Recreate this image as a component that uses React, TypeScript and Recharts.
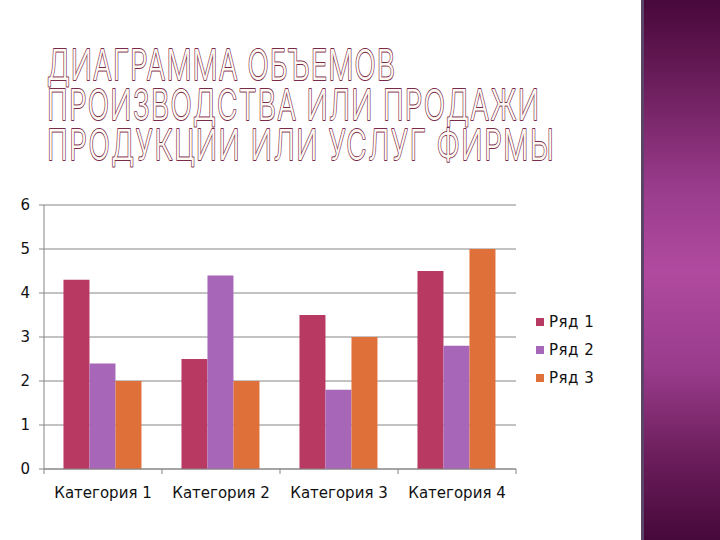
import { BarChart, Bar, XAxis, YAxis, CartesianGrid } from 'recharts';

const categories = ['Категория 1', 'Категория 2', 'Категория 3', 'Категория 4'];
const row1 = [4.3, 2.5, 3.5, 4.5];
const row2 = [2.4, 4.4, 1.8, 2.8];
const row3 = [2, 2, 3, 5];
const seriesNames = ['Ряд 1', 'Ряд 2', 'Ряд 3'];
const seriesColors = ['#b83a62', '#a866b8', '#e0703a'];
const yTicks = [0, 1, 2, 3, 4, 5, 6];
const titleLines = ['ДИАГРАММА ОБЪЕМОВ', 'ПРОИЗВОДСТВА ИЛИ ПРОДАЖИ', 'ПРОДУКЦИИ ИЛИ УСЛУГ ФИРМЫ'];

const data = categories.map((name, i) => ({ name, r1: row1[i], r2: row2[i], r3: row3[i] }));
const keys = ['r1', 'r2', 'r3'];

const FONT = '"DejaVu Sans", sans-serif';

function CatTick(props: any) {
  const { x, y, payload, index } = props;
  const half = payload && payload.offset ? payload.offset : 59;
  return (
    <g>
      <line x1={x - half} x2={x - half} y1={y} y2={y + 5} stroke="#868686" />
      {index === categories.length - 1 && (
        <line x1={x + half} x2={x + half} y1={y} y2={y + 5} stroke="#868686" />
      )}
      <text x={x} y={y + 29} textAnchor="middle" fontSize={15} fontFamily={FONT} fill="#111">
        {payload.value}
      </text>
    </g>
  );
}

function Title() {
  const lens = [348, 492, 507];
  return (
    <svg width={620} height={190} style={{ position: 'absolute', left: 0, top: 0 }}>
      {titleLines.map((t, i) => (
        <text key={t} transform={`translate(47, ${80 + i * 40}) scale(1, 1.5)`} x={0} y={0}
          fontSize={28} fontWeight={300} fontFamily='Inter, "Open Sans", sans-serif'
          textLength={lens[i]} lengthAdjust="spacing" fill="#fffaf2" stroke="#7a2b4b"
          strokeWidth={1.6} vectorEffect="non-scaling-stroke" paintOrder="stroke"
          strokeLinejoin="round">{t}</text>
      ))}
    </svg>
  );
}

export default function App() {
  return (
    <div style={{ position: 'absolute', left: 0, top: 0, width: 720, height: 540, background: '#fff', overflow: 'hidden' }}>
      <Title />
      <div style={{ position: 'absolute', left: 0, top: 0 }}>
        <BarChart width={540} height={540} data={data} barCategoryGap="16.5%" barGap={0}
          margin={{ top: 205, right: 24, left: 10, bottom: 31 }}>
          <CartesianGrid vertical={false} stroke="#868686" />
          <XAxis dataKey="name" height={40} tickLine={false} tickSize={0} tickMargin={0}
            axisLine={{ stroke: '#868686' }} tick={<CatTick />} interval={0} />
          <YAxis width={34} domain={[0, 6]} ticks={yTicks} interval={0} tickSize={5} tickMargin={9}
            axisLine={{ stroke: '#868686' }} tickLine={{ stroke: '#868686' }}
            tick={{ fill: '#111', fontSize: 15, fontFamily: FONT }} />
          {keys.map((k, i) => (
            <Bar key={k} dataKey={k} name={seriesNames[i]} fill={seriesColors[i]} isAnimationActive={false} />
          ))}
        </BarChart>
      </div>
      <div style={{ position: 'absolute', left: 536, top: 308, fontFamily: FONT, fontSize: 15, color: '#111' }}>
        {seriesNames.map((n, i) => (
          <div key={n} style={{ display: 'flex', alignItems: 'center', height: 28 }}>
            <span style={{ width: 8, height: 8, background: seriesColors[i], marginRight: 5, display: 'inline-block' }} />
            <span style={{ letterSpacing: 0.5 }}>{n}</span>
          </div>
        ))}
      </div>
      <div style={{ position: 'absolute', left: 641, top: 0, width: 3, height: 540, background: '#5b4566' }} />
      <div style={{
        position: 'absolute', left: 644, top: 0, width: 76, height: 540,
        background: 'linear-gradient(to bottom, #48083a 0%, #6a1d5a 15%, #9a3c8c 35%, #b04aa0 50%, #9a3c8c 68%, #6a1d5a 85%, #46083a 100%)',
      }} />
    </div>
  );
}
